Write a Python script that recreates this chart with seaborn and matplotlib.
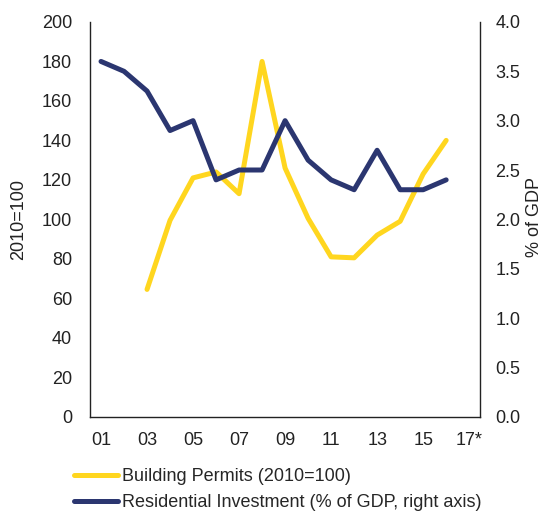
import numpy as np
import pandas as pd
import seaborn as sns
import matplotlib.pyplot as plt

years = list(range(2001, 2018))
permits = [np.nan, np.nan, 64.5, 99.5, 121, 124, 113, 180, 126, 100.5, 81, 80.5, 92, 99, 123, 140, np.nan]
res_invest = [3.6, 3.5, 3.3, 2.9, 3.0, 2.4, 2.5, 2.5, 3.0, 2.6, 2.4, 2.3, 2.7, 2.3, 2.3, 2.4, np.nan]
tick_years = [2001, 2003, 2005, 2007, 2009, 2011, 2013, 2015, 2017]
tick_labels = ["01", "03", "05", "07", "09", "11", "13", "15", "17*"]

yellow = "#FFD61F"
navy = "#2B3670"
fs = 13

df = pd.DataFrame({"year": years, "permits": permits, "res": res_invest})

sns.set_style("white")
plt.rcParams["font.family"] = ["Liberation Sans", "DejaVu Sans"]
plt.rcParams["font.size"] = fs

fig = plt.figure(figsize=(5.42, 5.11), dpi=100)
ax = fig.add_axes([0.166, 0.1845, 0.72, 0.7725])
ax2 = ax.twinx()

sns.lineplot(data=df, x="year", y="permits", ax=ax, color=yellow, lw=3.6,
             label="Building Permits (2010=100)", legend=False)
sns.lineplot(data=df, x="year", y="res", ax=ax2, color=navy, lw=3.6,
             label="Residential Investment (% of GDP, right axis)", legend=False)

ax.set_xlim(2000.52, 2017.48)
ax.set_ylim(0, 200)
ax.set_yticks(range(0, 201, 20))
ax2.set_ylim(0, 4)
ax2.set_yticks(np.arange(0, 4.01, 0.5))
ax2.set_yticklabels([f"{v:.1f}" for v in np.arange(0, 4.01, 0.5)])
ax.set_xticks(tick_years)
ax.set_xticklabels(tick_labels)

for a in (ax, ax2):
    a.tick_params(length=0, colors="#222222", labelsize=fs)
    for s in a.spines.values():
        s.set_visible(False)
ax.tick_params(axis="y", pad=13)
ax.tick_params(axis="x", pad=11)
ax2.tick_params(axis="y", pad=11)
ax.spines["left"].set_visible(True)
ax.spines["bottom"].set_visible(True)
ax2.spines["right"].set_visible(True)
for s in (ax.spines["left"], ax.spines["bottom"], ax2.spines["right"]):
    s.set_color("#222222")
    s.set_linewidth(1.0)

ax.set_xlabel("")
ax.set_ylabel("2010=100", fontsize=fs, color="#222222")
ax.yaxis.set_label_coords(-0.16, 0.5)
ax2.set_ylabel("% of GDP", fontsize=fs, color="#222222")
ax2.yaxis.set_label_coords(1.118, 0.505)

h1, l1 = ax.get_legend_handles_labels()
h2, l2 = ax2.get_legend_handles_labels()
fig.legend(h1 + h2, l1 + l2, loc="upper left", bbox_to_anchor=(0.136, 0.084),
           frameon=False, handlelength=2.45, handletextpad=0.22, labelspacing=0.52,
           fontsize=fs, borderaxespad=0, borderpad=0)

fig.savefig("out.png", dpi=100)
